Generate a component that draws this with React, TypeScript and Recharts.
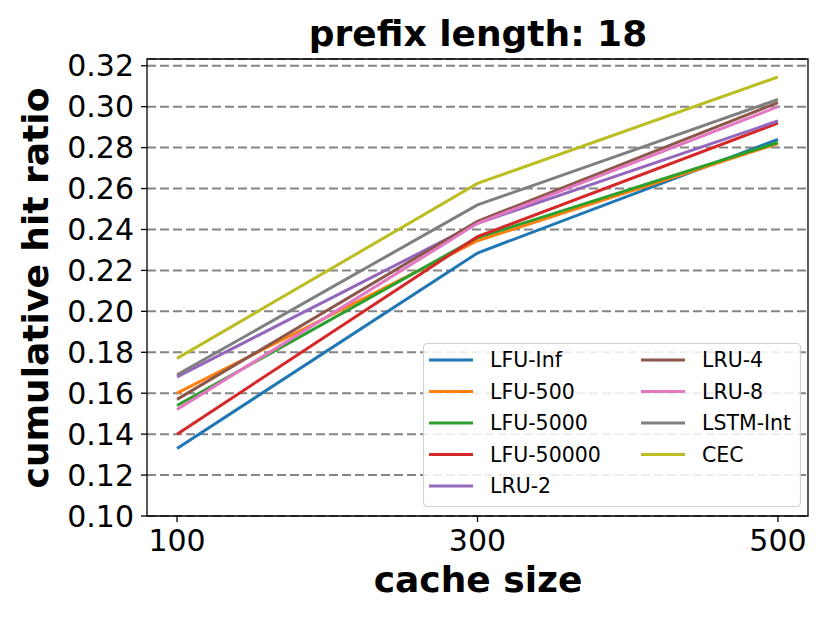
import React from 'react';
import { LineChart, Line, XAxis, YAxis, CartesianGrid, ReferenceArea, Legend } from 'recharts';

const cacheSizes = [100, 300, 500];
const lfuInf = [0.133, 0.2285, 0.284];
const lfu500 = [0.160, 0.2345, 0.282];
const lfu5000 = [0.154, 0.236, 0.2825];
const lfu50000 = [0.140, 0.2365, 0.292];
const lru2 = [0.168, 0.243, 0.293];
const lru4 = [0.157, 0.244, 0.302];
const lru8 = [0.152, 0.243, 0.300];
const lstmInt = [0.169, 0.252, 0.3035];
const cec = [0.177, 0.2625, 0.3145];
const yTicks = [0.10, 0.12, 0.14, 0.16, 0.18, 0.20, 0.22, 0.24, 0.26, 0.28, 0.30, 0.32];
const xTicks = [100, 300, 500];

const seriesDefs = [
  { key: 'LFU-Inf', values: lfuInf, color: '#1f77b4' },
  { key: 'LFU-500', values: lfu500, color: '#ff7f0e' },
  { key: 'LFU-5000', values: lfu5000, color: '#2ca02c' },
  { key: 'LFU-50000', values: lfu50000, color: '#d62728' },
  { key: 'LRU-2', values: lru2, color: '#9467bd' },
  { key: 'LRU-4', values: lru4, color: '#8c564b' },
  { key: 'LRU-8', values: lru8, color: '#e377c2' },
  { key: 'LSTM-Int', values: lstmInt, color: '#7f7f7f' },
  { key: 'CEC', values: cec, color: '#bcbd22' },
];

const data = cacheSizes.map((c, i) => {
  const row: any = { size: c };
  seriesDefs.forEach((s) => { row[s.key] = s.values[i]; });
  return row;
});

const FONT = '"DejaVu Sans", sans-serif';

const LegendBox = () => {
  const rowH = 31.5;
  return (
    <svg width={378} height={164} style={{ display: 'block' }}>
      <rect x={0.5} y={0.5} width={377} height={163} rx={4} ry={4} fill="rgba(255,255,255,0.85)" stroke="#d0d0d0" strokeWidth={1.2} />
      {seriesDefs.map((s, i) => {
        const col = i < 5 ? 0 : 1;
        const row = i < 5 ? i : i - 5;
        const x0 = col === 0 ? 6 : 218;
        const cy = 17 + row * rowH;
        return (
          <g key={s.key}>
            <line x1={x0} x2={x0 + 44} y1={cy} y2={cy} stroke={s.color} strokeWidth={3} />
            <text x={x0 + 61} y={cy} dy="0.36em" fontSize={20.5} fontFamily={FONT} fill="#000">{s.key}</text>
          </g>
        );
      })}
    </svg>
  );
};

export default function App() {
  return (
    <div style={{ position: 'absolute', left: 0, top: 0, width: 830, height: 623, background: '#fff' }}>
      <LineChart width={830} height={623} data={data} margin={{ top: 59, right: 22, left: 0, bottom: 0 }}>
        <CartesianGrid horizontal vertical={false} stroke="#858585" strokeWidth={2} strokeDasharray="9 4" />
        <XAxis
          dataKey="size"
          type="number"
          domain={[80, 520]}
          ticks={xTicks}
          allowDataOverflow
          height={107}
          tickSize={6}
          tickMargin={8}
          axisLine={false}
          tickLine={{ stroke: '#000', strokeWidth: 1.3 }}
          tick={{ fontSize: 30, fill: '#000', fontFamily: FONT }}
          label={{
            content: () => (
              <text x={478} y={592} textAnchor="middle" fontSize={36} fontWeight="bold" fontFamily={FONT} fill="#000">cache size</text>
            ),
          }}
        />
        <YAxis
          type="number"
          domain={[0.1, 0.3233]}
          ticks={yTicks}
          allowDataOverflow
          width={147}
          tickSize={6}
          tickMargin={7}
          axisLine={false}
          tickLine={{ stroke: '#000', strokeWidth: 1.3 }}
          tickFormatter={(v: number) => v.toFixed(2)}
          tick={{ fontSize: 30, fill: '#000', fontFamily: FONT }}
          label={{
            content: () => (
              <text x={48} y={288} transform="rotate(-90 48 288)" textAnchor="middle" fontSize={36} fontWeight="bold" fontFamily={FONT} fill="#000">cumulative hit ratio</text>
            ),
          }}
        />
        <ReferenceArea x1={80} x2={520} y1={0.1} y2={0.3233} fill="none" stroke="#000" strokeWidth={1.3} ifOverflow="extendDomain" />
        {seriesDefs.map((s) => (
          <Line key={s.key} type="linear" dataKey={s.key} stroke={s.color} strokeWidth={3} dot={false} isAnimationActive={false} />
        ))}
        <Legend
          layout="vertical"
          align="center"
          verticalAlign="middle"
          content={() => <LegendBox />}
          wrapperStyle={{ position: 'absolute', left: 423, top: 343, width: 378, height: 164 }}
        />
      </LineChart>
      <div style={{ position: 'absolute', left: 0, width: 956, top: 14, textAlign: 'center', fontFamily: FONT, fontWeight: 'bold', fontSize: 36, lineHeight: '40px', color: '#000' }}>
        prefix length: 18
      </div>
    </div>
  );
}
